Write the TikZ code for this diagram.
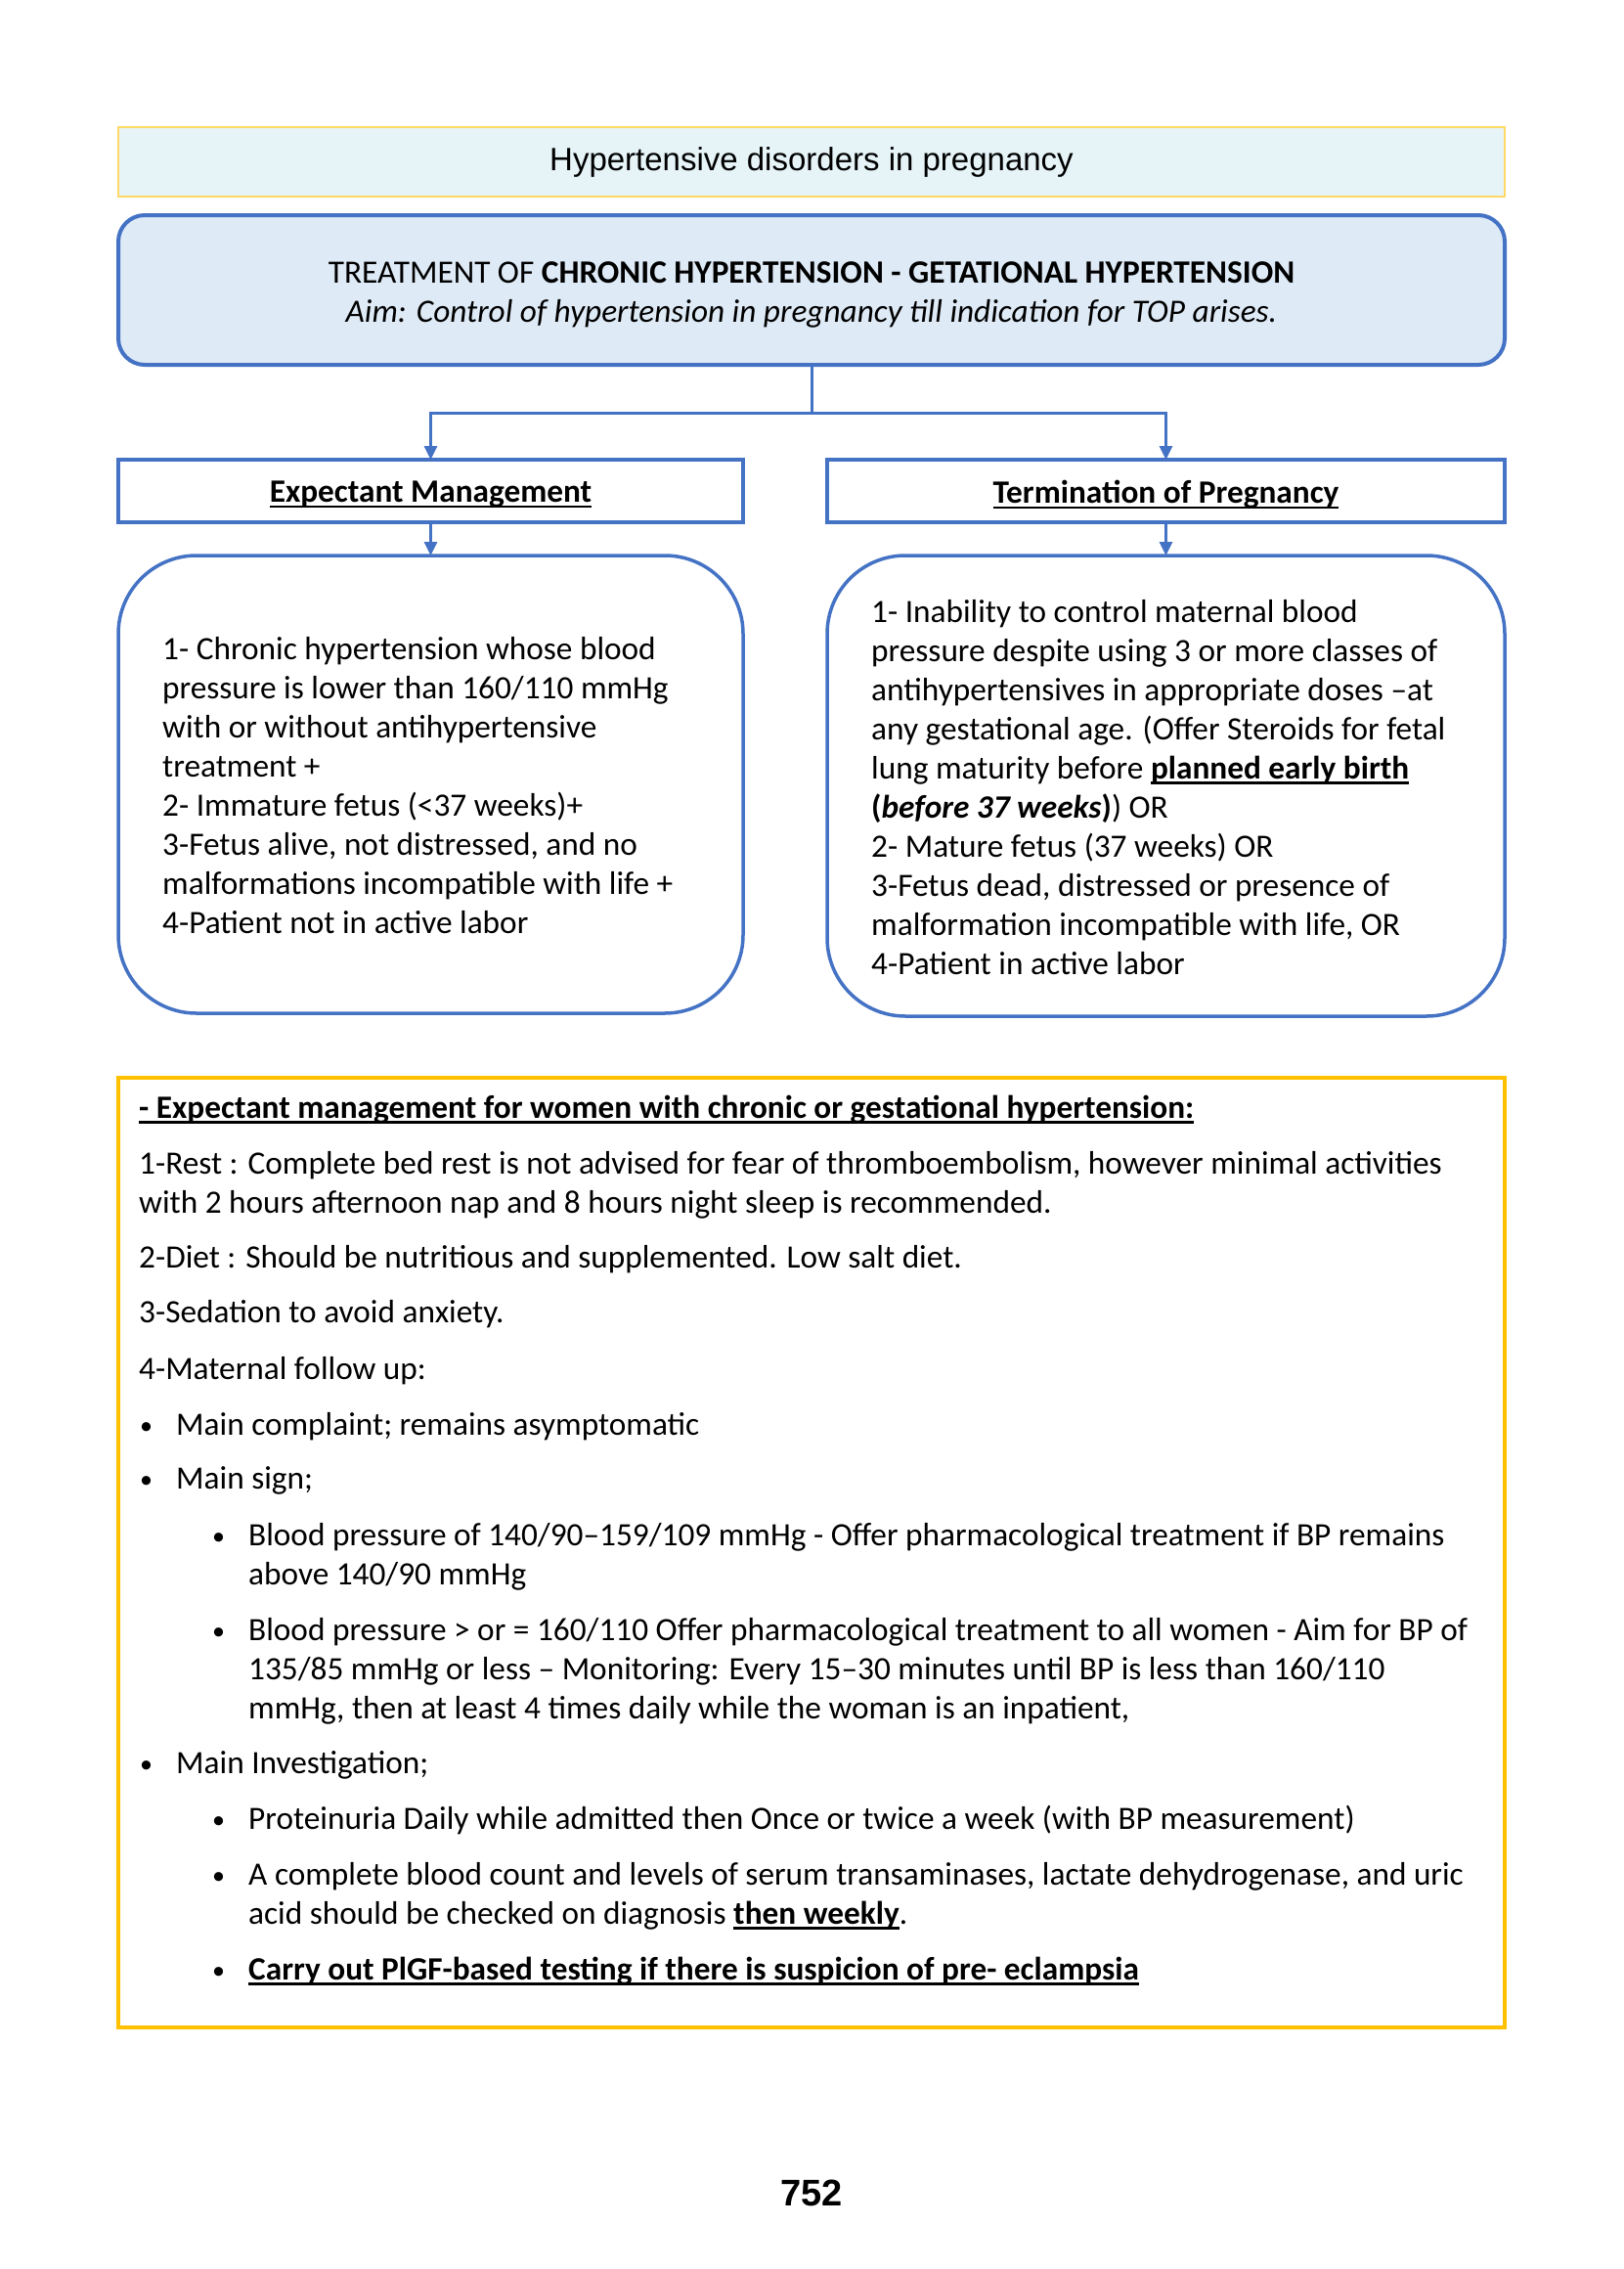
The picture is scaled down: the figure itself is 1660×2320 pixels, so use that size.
\documentclass[tikz,border=0pt]{standalone}
\usepackage{fontspec}
\setmainfont{Carlito}
\newfontfamily\arialf{Liberation Sans}
\newcommand{\myul}[1]{\leavevmode\setbox0\hbox{#1}\rlap{\rule[-5.5pt]{\wd0}{2.6pt}}\box0}
\usetikzlibrary{arrows.meta}
\definecolor{bblue}{HTML}{4472C4}
\definecolor{mfill}{HTML}{DEEAF6}
\definecolor{tfill}{HTML}{E6F4F8}
\definecolor{tgold}{HTML}{FFD966}
\definecolor{ygold}{HTML}{FFC000}
\newcommand{\bodyf}{\fontsize{33.3}{40}\selectfont}
\tikzset{
  bluebox/.style={draw=bblue, line width=3.5pt, fill=white, inner sep=0pt, outer sep=0pt, anchor=north west},
  conn/.style={draw=bblue, line width=3pt},
  tip/.style={-{Triangle[length=14pt,width=13pt]}},
  txt/.style={inner sep=0pt, anchor=base west, align=left, font=\bodyf},
  ctxt/.style={inner sep=0pt, align=center, font=\bodyf},
  bul/.style={inner sep=0pt, anchor=base west, font=\fontsize{26}{40}\selectfont},
}
\begin{document}
\begin{tikzpicture}[x=1pt,y=-1pt]
\useasboundingbox[fill=white] (0,0) rectangle (1660,2320);

% title
\node[draw=tgold, line width=1.4pt, fill=tfill, minimum width=1418pt, minimum height=71pt, inner sep=0pt, outer sep=0pt, anchor=north west, font=\arialf\fontsize{33}{40}\selectfont] (title) at (121,130) {Hypertensive disorders in pregnancy};

% main box
\node[draw=bblue, line width=4pt, fill=mfill, rounded corners=27pt, minimum width=1418pt, minimum height=153pt, inner sep=0pt, outer sep=0pt, anchor=north west] (main) at (121,220) {};
\node[ctxt, yshift=-5pt] (maintext) at (main.center)
 {TREATMENT OF \textbf{CHRONIC HYPERTENSION - GETATIONAL HYPERTENSION}\\ \textit{Aim: Control of hypertension in pregnancy till indication for TOP arises.}};

% second level boxes
\node[bluebox, minimum width=639pt, minimum height=64pt] (exp) at (121,470) {};
\node[ctxt, yshift=-4pt] (exptext) at (exp.center) {\textbf{\myul{Expectant Management}}};
\node[bluebox, minimum width=693pt, minimum height=64pt] (term) at (846,470) {};
\node[ctxt, yshift=-4pt] (termtext) at (term.center) {\textbf{\myul{Termination of Pregnancy}}};

\path (main.south) ++(0,49) coordinate (j);
\draw[conn] (main.south) -- (j);
\draw[conn, tip] (j) -| (exp.north);
\draw[conn, tip] (j) -| (term.north);

% rounded boxes
\node[bluebox, rounded corners=80pt, minimum width=639pt, minimum height=468pt] (lbox) at (121,568) {};
\node[bluebox, rounded corners=80pt, minimum width=693pt, minimum height=471pt] (rbox) at (846,568) {};
\draw[conn, tip] (exp.south) -- (lbox.north);
\draw[conn, tip] (term.south) -- (rbox.north);

\node[txt] (ltext) at (166,954) {1- Chronic hypertension whose blood\\
pressure is lower than 160/110 mmHg\\
with or without antihypertensive\\
treatment +\\
2- Immature fetus (<37 weeks)+\\
3-Fetus alive, not distressed, and no\\
malformations incompatible with life +\\
4-Patient not in active labor};

\node[txt] (rtext) at (891,996) {1- Inability to control maternal blood\\
pressure despite using 3 or more classes of\\
antihypertensives in appropriate doses –at\\
any gestational age. (Offer Steroids for fetal\\
lung maturity before \textbf{\myul{planned early birth}}\\
\textbf{(\textit{before 37 weeks})}) OR\\
2- Mature fetus (37 weeks) OR\\
3-Fetus dead, distressed or presence of\\
malformation incompatible with life, OR\\
4-Patient in active labor};

% yellow box
\node[draw=ygold, line width=4pt, minimum width=1418pt, minimum height=971pt, inner sep=0pt, outer sep=0pt, anchor=north west] (ybox) at (121,1102) {};

\node[txt] (yh) at (142,1143) {\textbf{\myul{- Expectant management for women with chronic or gestational hypertension:}}};
\node[txt] (y1) at (142,1240) {1-Rest : Complete bed rest is not advised for fear of thromboembolism, however minimal activities\\
with 2 hours afternoon nap and 8 hours night sleep is recommended.};
\node[txt] (y2) at (142,1296) {2-Diet : Should be nutritious and supplemented. Low salt diet.};
\node[txt] (y3) at (142,1352) {3-Sedation to avoid anxiety.};
\node[txt] (y4) at (142,1410) {4-Maternal follow up:};

\node[bul] (b1d) at (143,1466) {•};
\node[txt] (b1) at (180,1467) {Main complaint; remains asymptomatic};
\node[bul] (b2d) at (143,1521) {•};
\node[txt] (b2) at (180,1522) {Main sign;};
\node[bul] (s1d) at (217,1579) {•};
\node[txt] (s1) at (254,1620) {Blood pressure of 140/90–159/109 mmHg - Offer pharmacological treatment if BP remains\\
above 140/90 mmHg};
\node[bul] (s2d) at (217,1676) {•};
\node[txt] (s2) at (254,1757) {Blood pressure > or = 160/110 Offer pharmacological treatment to all women - Aim for BP of\\
135/85 mmHg or less – Monitoring: Every 15–30 minutes until BP is less than 160/110\\
mmHg, then at least 4 times daily while the woman is an inpatient,};
\node[bul] (b3d) at (143,1812) {•};
\node[txt] (b3) at (180,1813) {Main Investigation;};
\node[bul] (s3d) at (217,1869) {•};
\node[txt] (s3) at (254,1870) {Proteinuria Daily while admitted then Once or twice a week (with BP measurement)};
\node[bul] (s4d) at (217,1926) {•};
\node[txt] (s4) at (254,1967) {A complete blood count and levels of serum transaminases, lactate dehydrogenase, and uric\\
acid should be checked on diagnosis \textbf{\myul{then weekly}}.};
\node[bul] (s5d) at (217,2023) {•};
\node[txt] (s5) at (254,2024) {\textbf{\myul{Carry out PlGF-based testing if there is suspicion of pre- eclampsia}}};

% page number
\node[inner sep=0pt, anchor=base, font=\arialf\bfseries\fontsize{38}{40}\selectfont] (pg) at (830,2255) {752};
\end{tikzpicture}
\end{document}
